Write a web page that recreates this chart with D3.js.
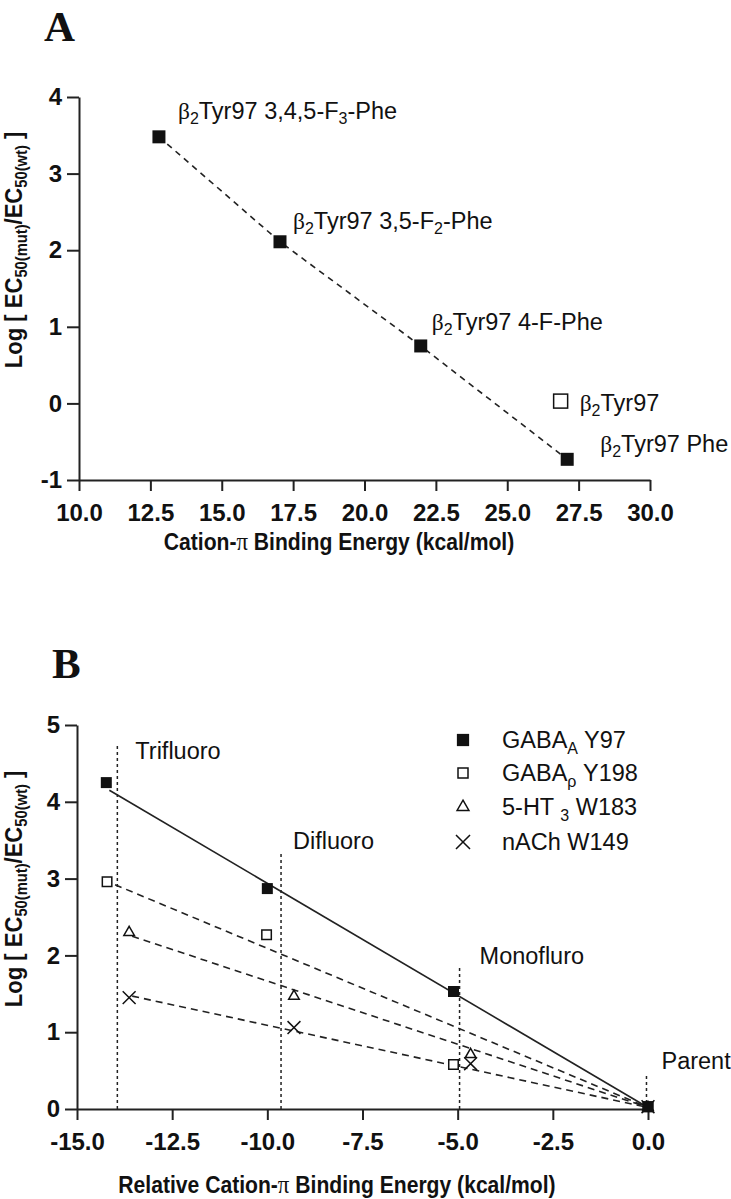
<!DOCTYPE html>
<html><head><meta charset="utf-8">
<script src="https://cdn.jsdelivr.net/npm/d3@7"></script>
<style>
html,body{margin:0;padding:0;background:#fff;}
svg{display:block;}
</style></head>
<body>
<svg id="chart" width="731" height="1199" font-family="Arial, 'Liberation Sans', Helvetica, sans-serif" fill="#111"></svg>
<script>
// ---------- Panel A data ----------
const aLabels = ["3,4,5-F3-Phe", "3,5-F2-Phe", "4-F-Phe", "Phe"];
const aEnergy = [12.8, 17.04, 21.97, 27.1];
const aLogRatio = [3.48, 2.11, 0.75, -0.73];
const aWtEnergy = [26.87];
const aWtLogRatio = [0.03];
const aXTicks = [10, 12.5, 15, 17.5, 20, 22.5, 25, 27.5, 30];
const aYTicks = [-1, 0, 1, 2, 3, 4];

// ---------- Panel B data ----------
const bSeries = ["GABAA Y97", "GABAρ Y198", "5-HT3 W183", "nACh W149"];
const bX_gabaA = [-14.23, -10.0, -5.11, 0];
const bY_gabaA = [4.25, 2.87, 1.53, 0.03];
const bX_gabaR = [-14.21, -10.02, -5.11, 0];
const bY_gabaR = [2.96, 2.27, 0.58, 0.03];
const bX_ht3 = [-13.63, -9.30, -4.66, 0];
const bY_ht3 = [2.30, 1.47, 0.71, 0.02];
const bX_nach = [-13.63, -9.30, -4.66, 0];
const bY_nach = [1.45, 1.06, 0.59, 0.03];
// fitted lines: start point, all end near origin
const bFitStartX = [-14.15, -14.0, -13.55, -13.55];
const bFitStartY = [4.15, 2.92, 2.25, 1.47];
const bFitEndX = [0, 0, 0, 0];
const bFitEndY = [0.02, 0.02, 0.02, 0.02];
// vertical reference lines
const bRefNames = ["Trifluoro", "Difluoro", "Monofluro", "Parent"];
const bRefX = [-13.94, -9.64, -4.95, -0.04];
const bRefTop = [4.73, 3.34, 1.84, 0.45];
const bXTicks = [-15, -12.5, -10, -7.5, -5, -2.5, 0];
const bYTicks = [0, 1, 2, 3, 4, 5];

const SANS = "Arial, 'Liberation Sans', Helvetica, sans-serif";
const SERIF = "'Times New Roman', 'Liberation Serif', 'DejaVu Serif', serif";
const svg = d3.select("#chart");
const fmt1 = d3.formatLocale({decimal: ".", thousands: ",", grouping: [3], currency: ["", ""], minus: "-"}).format(".1f");

function styleAxis(g) {
  g.attr("font-family", SANS);
  g.selectAll("path.domain").attr("stroke", "#222").attr("stroke-width", 2);
  g.selectAll(".tick line").attr("stroke", "#222").attr("stroke-width", 2);
  g.selectAll(".tick text").attr("font-size", 24).attr("font-weight", "bold").attr("fill", "#111");
}

function richText(g, x, y, parts, opts) {
  const size = opts.size, sub = opts.sub || Math.round(size * 0.65), sdy = opts.sdy || 5;
  const t = g.append("text").attr("x", x).attr("y", y).attr("font-size", size);
  if (opts.bold) t.attr("font-weight", "bold");
  let down = false;
  parts.forEach(p => {
    const isSub = p[1] === true;
    const ts = t.append("tspan").text(p[0]).attr("font-size", isSub ? sub : size);
    if (isSub && !down) { ts.attr("dy", sdy); down = true; }
    else if (!isSub && down) { ts.attr("dy", -sdy); down = false; }
    if (p[2]) ts.attr("font-family", p[2]);
  });
  return t;
}

function xTitle(g, cx, y, prefix) {
  const t = g.append("text").attr("transform", `translate(${cx},${y}) scale(0.88,1)`)
    .attr("text-anchor", "middle").attr("font-weight", "bold").attr("font-size", 24);
  t.append("tspan").text(prefix + "Cation-");
  t.append("tspan").text("π").attr("font-family", SERIF).attr("font-weight", "normal").attr("font-size", 26);
  t.append("tspan").text(" Binding Energy (kcal/mol)");
}

function yTitle(g, cx, cy) {
  const t = g.append("text").attr("transform", `translate(${cx},${cy}) rotate(-90) scale(0.92,1)`)
    .attr("text-anchor", "middle").attr("font-weight", "bold").attr("font-size", 24);
  const parts = [["Log [ EC", 0], ["50(mut)", 1], ["/EC", 0], ["50(wt)", 1], [" ]", 0]];
  let down = false;
  parts.forEach(p => {
    const ts = t.append("tspan").text(p[0]).attr("font-size", p[1] ? 16 : 24);
    if (p[1] && !down) { ts.attr("dy", 5); down = true; }
    else if (!p[1] && down) { ts.attr("dy", -5); down = false; }
  });
}

const BETA = ["β", false, SERIF];
const LBL = 23.5;

// ================= Panel A =================
const xA = d3.scaleLinear().domain([10, 30]).range([79, 650]);
const yA = d3.scaleLinear().domain([-1, 4]).range([480, 97]);
const gA = svg.append("g");

svg.append("text").attr("x", 44).attr("y", 41).text("A")
  .attr("font-family", SERIF).attr("font-weight", "bold").attr("font-size", 43);

gA.append("g").attr("transform", `translate(0,${yA(-1)})`)
  .call(d3.axisBottom(xA).tickValues(aXTicks).tickFormat(fmt1).tickSize(11).tickSizeOuter(0).tickPadding(13))
  .call(styleAxis);
gA.append("g").attr("transform", `translate(${xA(10)},0)`)
  .call(d3.axisLeft(yA).tickValues(aYTicks).tickFormat(d => d < 0 ? "-" + Math.abs(d) : d).tickSize(12).tickSizeOuter(0).tickPadding(5))
  .call(styleAxis);

const aPts = aEnergy.map((e, i) => [e, aLogRatio[i]]);
gA.append("path").datum(aPts)
  .attr("d", d3.line().x(d => xA(d[0])).y(d => yA(d[1])))
  .attr("fill", "none").attr("stroke", "#222").attr("stroke-width", 1.6).attr("stroke-dasharray", "6,5");

const sqA = 13;
gA.selectAll("rect.fa").data(aPts).enter().append("rect")
  .attr("x", d => xA(d[0]) - sqA / 2).attr("y", d => yA(d[1]) - sqA / 2)
  .attr("width", sqA).attr("height", sqA).attr("fill", "#111");
gA.selectAll("rect.oa").data(aWtEnergy.map((e, i) => [e, aWtLogRatio[i]])).enter().append("rect")
  .attr("x", d => xA(d[0]) - 7).attr("y", d => yA(d[1]) - 7)
  .attr("width", 14).attr("height", 14).attr("fill", "#fff").attr("stroke", "#111").attr("stroke-width", 1.5);

const aLabelOff = [[19, -18], [13, -13], [11, -16], [33, -7]];
aPts.forEach((d, i) => {
  const lab = aLabels[i];
  const m = lab.match(/^(.*F)(\d)(-Phe)$/);
  let parts = [BETA, ["2", true], ["Tyr97 "]];
  if (m) { parts.push([m[1]]); parts.push([m[2], true]); parts.push([m[3]]); }
  else parts.push([lab]);
  richText(gA, xA(d[0]) + aLabelOff[i][0], yA(d[1]) + aLabelOff[i][1], parts, {size: LBL, sub: 16, sdy: 5});
});
richText(gA, xA(aWtEnergy[0]) + 19, yA(aWtLogRatio[0]) + 10,
  [BETA, ["2", true], ["Tyr97"]], {size: LBL, sub: 16, sdy: 5});

xTitle(gA, 339, 550, "");
yTitle(gA, 22, 250);

// ================= Panel B =================
const xB = d3.scaleLinear().domain([-15, 0]).range([77, 648]);
const yB = d3.scaleLinear().domain([0, 5]).range([1109, 725]);
const gB = svg.append("g");

svg.append("text").attr("x", 52).attr("y", 678).text("B")
  .attr("font-family", SERIF).attr("font-weight", "bold").attr("font-size", 43);

gB.append("g").attr("transform", `translate(0,${yB(0)})`)
  .call(d3.axisBottom(xB).tickValues(bXTicks).tickFormat(fmt1).tickSize(11).tickSizeOuter(0).tickPadding(13))
  .call(styleAxis);
gB.append("g").attr("transform", `translate(${xB(-15)},0)`)
  .call(d3.axisLeft(yB).tickValues(bYTicks).tickFormat(d3.format("d")).tickSize(12).tickSizeOuter(0).tickPadding(5))
  .call(styleAxis);

const bRefOff = [[18, 13], [12, -3], [20, -4], [15, -5]];
bRefX.forEach((x, i) => {
  gB.append("line").attr("x1", xB(x)).attr("x2", xB(x)).attr("y1", yB(0)).attr("y2", yB(bRefTop[i]))
    .attr("stroke", "#222").attr("stroke-width", 1.5).attr("stroke-dasharray", "3,3");
  gB.append("text").attr("x", xB(x) + bRefOff[i][0]).attr("y", yB(bRefTop[i]) + bRefOff[i][1])
    .attr("font-size", LBL).text(bRefNames[i]);
});

bFitStartX.forEach((x, i) => {
  gB.append("line").attr("x1", xB(x)).attr("y1", yB(bFitStartY[i]))
    .attr("x2", xB(bFitEndX[i])).attr("y2", yB(bFitEndY[i]))
    .attr("stroke", "#222").attr("stroke-width", 1.6)
    .attr("stroke-dasharray", i === 0 ? null : "7,5");
});

const seriesData = [
  {xs: bX_gabaA, ys: bY_gabaA, type: d3.symbolSquare, size: 121, fill: "#111", stroke: "none"},
  {xs: bX_gabaR, ys: bY_gabaR, type: d3.symbolSquare, size: 90, fill: "#fff", stroke: "#111"},
  {xs: bX_ht3, ys: bY_ht3, type: d3.symbolTriangle2, size: 80, fill: "#fff", stroke: "#111"},
  {xs: bX_nach, ys: bY_nach, type: d3.symbolX, size: 110, fill: "none", stroke: "#111"}
];
[3, 2, 1, 0].forEach(si => {
  const s = seriesData[si];
  s.xs.forEach((x, j) => {
    gB.append("path").attr("d", d3.symbol().type(s.type).size(s.size)())
      .attr("transform", `translate(${xB(x)},${yB(s.ys[j])})`)
      .attr("fill", s.fill).attr("stroke", s.stroke).attr("stroke-width", 1.5);
  });
});

const legY = [740, 773, 807, 842];
const legText = [
  [["GABA"], ["A", true], [" Y97"]],
  [["GABA"], ["ρ", true], [" Y198"]],
  [["5-HT "], ["3", true], ["  W183"]],
  [["nACh W149"]]
];
seriesData.forEach((s, i) => {
  gB.append("path").attr("d", d3.symbol().type(s.type).size(i === 0 ? 150 : (i === 3 ? 130 : 100))())
    .attr("transform", `translate(463,${legY[i]})`)
    .attr("fill", s.fill).attr("stroke", s.stroke).attr("stroke-width", 1.5);
  richText(gB, 502, legY[i] + 8, legText[i], {size: LBL, sub: 16, sdy: 6});
});

xTitle(gB, 337, 1193, "Relative ");
yTitle(gB, 22, 889);
</script>
</body></html>
